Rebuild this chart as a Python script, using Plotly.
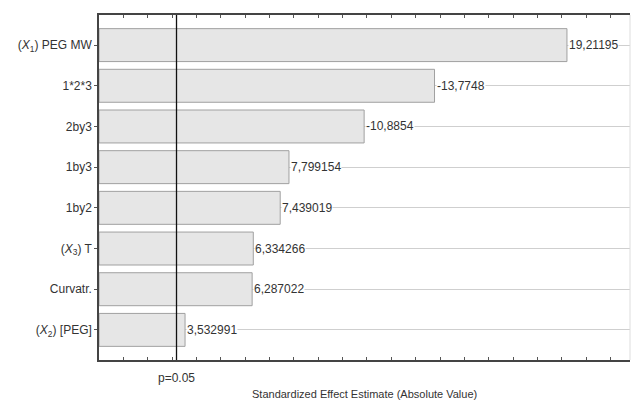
import plotly.graph_objects as go

categories = ["(<i>X</i><sub>1</sub>) PEG MW", "1*2*3", "2by3", "1by3", "1by2",
              "(<i>X</i><sub>3</sub>) T", "Curvatr.", "(<i>X</i><sub>2</sub>) [PEG]"]
effects = [19.21195, 13.7748, 10.8854, 7.799154, 7.439019, 6.334266, 6.287022, 3.532991]
value_labels = ["19,21195", "-13,7748", "-10,8854", "7,799154", "7,439019",
                "6,334266", "6,287022", "3,532991"]
p_crit = 3.182
p_label = "p=0.05"
x_title = "Standardized Effect Estimate (Absolute Value)"

FONT = "Liberation Sans, Arial, sans-serif"
n = len(categories)

fig = go.Figure()
fig.add_trace(go.Bar(
    x=effects, y=categories, orientation="h", width=0.81,
    marker=dict(color="#e6e6e6", line=dict(color="#a0a0a0", width=1)),
    hoverinfo="skip", showlegend=False,
))

for v, c, t in zip(effects, categories, value_labels):
    fig.add_annotation(x=v, y=c, text=t, xanchor="left", yanchor="middle",
                       showarrow=False, xshift=1, bgcolor="white",
                       font=dict(family=FONT, size=12, color="#333"),
                       borderpad=0)

fig.add_shape(type="line", x0=p_crit, x1=p_crit, y0=0, y1=1, yref="paper",
              line=dict(color="#111", width=1.3))
fig.add_shape(type="line", x0=1, x1=1, xref="paper", y0=0, y1=1, yref="paper",
              line=dict(color="#dddddd", width=1))

fig.add_annotation(x=p_crit, y=0, yref="paper", yshift=-18, text=p_label,
                   showarrow=False, xanchor="center", yanchor="middle",
                   font=dict(family=FONT, size=12, color="#333"))
fig.add_annotation(x=0.5, xref="paper", y=0, yref="paper", yshift=-34,
                   text=x_title, showarrow=False, xanchor="center", yanchor="middle",
                   font=dict(family=FONT, size=11, color="#333"))

fig.update_layout(
    width=631, height=403,
    margin=dict(l=99, r=1, t=15, b=43),
    paper_bgcolor="white", plot_bgcolor="white",
    font=dict(family=FONT, size=12, color="#333"),
    bargap=0.19,
)
fig.update_xaxes(
    range=[0, 21.8], showgrid=False, zeroline=False,
    showline=True, linecolor="#444", linewidth=1.5, mirror="ticks",
    ticks="inside", dtick=1, tick0=0, ticklen=3, tickcolor="#555",
    showticklabels=False,
)
fig.update_yaxes(
    type="category", categoryorder="array", categoryarray=categories,
    range=[n - 1 + 0.74, -0.74],
    showgrid=True, gridcolor="#cfcfcf", gridwidth=1,
    showline=True, linecolor="#444", linewidth=1.5,
    ticks="outside", ticklen=3, tickcolor="#555",
    tickfont=dict(family=FONT, size=12, color="#333"),
    zeroline=False,
)

fig.write_html("out.html", config={"displayModeBar": False},
               post_script="document.body.style.margin='0';document.body.style.overflow='hidden';")
